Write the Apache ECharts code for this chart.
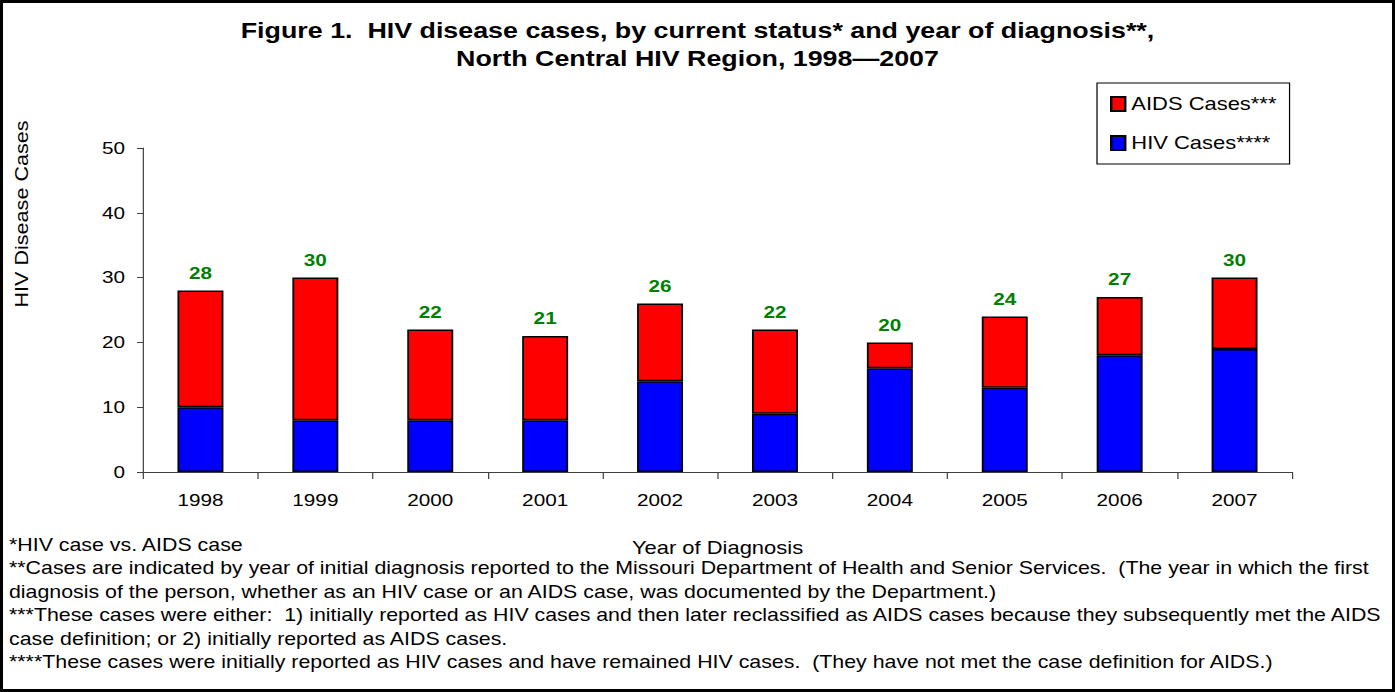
<!DOCTYPE html>
<html>
<head>
<meta charset="utf-8">
<script src="https://cdn.jsdelivr.net/npm/echarts@6/dist/echarts.min.js"></script>
<style>
  html, body { margin: 0; padding: 0; background: #fff; overflow: hidden; }
  #frame {
    position: absolute; left: 0; top: 0;
    width: 1395px; height: 692px;
    box-sizing: border-box;
    border: 3px solid #000;
    pointer-events: none;
  }
  #chart { position: absolute; left: 0; top: 0; height: 692px; transform-origin: 0 0; }
</style>
</head>
<body>
<div id="chart"></div>
<div id="frame"></div>
<script>
// data
const years = ['1998', '1999', '2000', '2001', '2002', '2003', '2004', '2005', '2006', '2007'];
const hivCases = [10, 8, 8, 8, 14, 9, 16, 13, 18, 19];
const aidsCases = [18, 22, 14, 13, 12, 13, 4, 11, 9, 11];
const yTicks = { min: 0, max: 50, interval: 10 };

const titleLines = [
  'Figure 1.  HIV disease cases, by current status* and year of diagnosis**,',
  'North Central HIV Region, 1998\u20142007'
];
const footnotes = [
  '*HIV case vs. AIDS case',
  '**Cases are indicated by year of initial diagnosis reported to the Missouri Department of Health and Senior Services.  (The year in which the first',
  'diagnosis of the person, whether as an HIV case or an AIDS case, was documented by the Department.)',
  '***These cases were either:  1) initially reported as HIV cases and then later reclassified as AIDS cases because they subsequently met the AIDS',
  'case definition; or 2) initially reported as AIDS cases.',
  '****These cases were initially reported as HIV cases and have remained HIV cases.  (They have not met the case definition for AIDS.)'
];

// the original lettering is wide: draw on a narrower canvas and stretch it horizontally
const PAGE_W = 1395;
const STRETCH = 1.22;
const W = PAGE_W / STRETCH;
const sx = (x) => x / STRETCH;   // page x -> chart x

const FONT = '"Liberation Sans", Arial, sans-serif';
const totals = hivCases.map((v, i) => v + aidsCases[i]);
const axisColor = '#404040';

const el = document.getElementById('chart');
el.style.width = W + 'px';
el.style.transform = 'scaleX(' + STRETCH + ')';

const chart = echarts.init(el, null, { renderer: 'svg', width: W, height: 692 });

chart.setOption({
  animation: false,
  textStyle: { fontFamily: FONT, color: '#000' },
  title: {
    text: titleLines.join('\n'),
    left: 'center',
    top: 11,
    textStyle: { fontFamily: FONT, fontSize: 22, fontWeight: 'bold', color: '#000', lineHeight: 28 }
  },
  legend: {
    data: ['AIDS Cases***', 'HIV Cases****'],
    orient: 'vertical',
    left: sx(1097),
    top: 83,
    padding: [12, sx(13), 12, sx(13)],
    itemGap: 21,
    itemWidth: sx(14),
    itemHeight: 14,
    icon: 'rect',
    backgroundColor: '#fff',
    borderColor: '#000',
    borderWidth: 1,
    textStyle: { fontFamily: FONT, fontSize: 18, lineHeight: 18, color: '#000' }
  },
  grid: { left: sx(143), right: W - sx(1292), top: 148, bottom: 220 },
  xAxis: {
    type: 'category',
    data: years,
    name: 'Year of Diagnosis',
    nameLocation: 'middle',
    nameGap: 67,
    nameTextStyle: { fontFamily: FONT, fontSize: 18, color: '#000' },
    axisLine: { lineStyle: { color: axisColor, width: 1 } },
    axisTick: { show: true, length: 7, lineStyle: { color: axisColor } },
    axisLabel: { fontSize: 17, color: '#000', margin: 20 }
  },
  yAxis: {
    type: 'value',
    min: yTicks.min,
    max: yTicks.max,
    interval: yTicks.interval,
    splitLine: { show: false },
    axisLine: { show: true, lineStyle: { color: axisColor, width: 1 } },
    axisTick: { show: true, length: sx(6), lineStyle: { color: axisColor } },
    axisLabel: { fontSize: 17, color: '#000', margin: sx(18) }
  },
  series: [
    {
      name: 'HIV Cases****',
      type: 'bar',
      stack: 'cases',
      barWidth: '40%',
      data: hivCases,
      itemStyle: { color: '#0000ff', borderColor: '#000', borderWidth: 1.5 }
    },
    {
      name: 'AIDS Cases***',
      type: 'bar',
      stack: 'cases',
      barWidth: '40%',
      data: aidsCases,
      itemStyle: { color: '#ff0000', borderColor: '#000', borderWidth: 1.5 },
      label: {
        show: true,
        position: 'top',
        distance: 9,
        formatter: (p) => String(totals[p.dataIndex]),
        fontFamily: FONT,
        fontSize: 17,
        fontWeight: 'bold',
        color: '#008000'
      }
    }
  ],
  graphic: [
    {
      // rotated axis title: lengthen along the reading direction, undo the page stretch across it
      type: 'text',
      x: sx(22),
      y: 214,
      rotation: Math.PI / 2,
      scaleX: 1.2,
      scaleY: 1 / STRETCH,
      style: {
        text: 'HIV Disease Cases',
        fontFamily: FONT,
        fontSize: 18,
        fill: '#000',
        align: 'center',
        verticalAlign: 'middle'
      }
    },
    {
      type: 'text',
      left: sx(9),
      top: 533,
      style: {
        text: footnotes.join('\n'),
        fontFamily: FONT,
        fontSize: 17.5,
        lineHeight: 23.4,
        fill: '#000'
      }
    }
  ]
});
</script>
</body>
</html>
